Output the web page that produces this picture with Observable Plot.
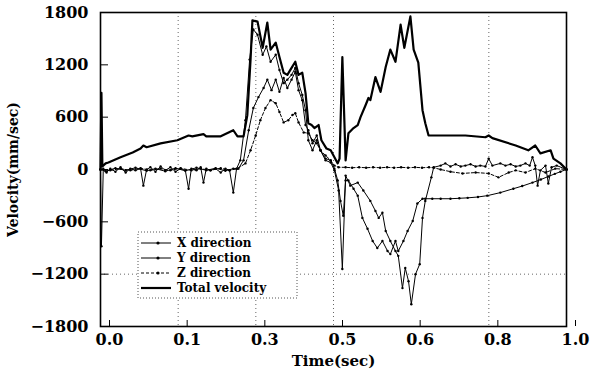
<!DOCTYPE html>
<html><head><meta charset="utf-8">
<script src="https://cdn.jsdelivr.net/npm/d3@7"></script>
<script src="https://cdn.jsdelivr.net/npm/@observablehq/plot@0.6"></script>
<style>body{margin:0;background:#fff}#chart{width:602px;height:374px}</style>
</head><body><div id="chart"></div>
<script>
const seriesNames = ["X direction", "Y direction", "Z direction", "Total velocity"];

// [time (sec), velocity (mm/sec)]
const xDirection = [
 [0,0],[0.002,-880],[0.006,10],[0.013,-35],[0.021,10],[0.032,-25],[0.043,25],[0.054,-35],[0.064,10],[0.075,-10],
 [0.086,10],[0.092,-185],[0.099,0],[0.107,25],[0.118,-25],[0.129,35],[0.139,-10],[0.150,25],[0.161,-25],[0.172,10],
 [0.182,-10],[0.189,-220],[0.195,10],[0.206,-10],[0.215,25],[0.221,-150],[0.227,10],[0.236,-10],[0.247,10],[0.258,-35],
 [0.268,10],[0.277,-10],[0.285,-265],[0.292,10],
 [0.300,105],[0.311,565],[0.320,1260],[0.328,1605],[0.337,1545],[0.348,1315],[0.356,1410],[0.365,1235],[0.376,1315],
 [0.384,1140],[0.393,990],[0.401,1030],[0.410,1085],[0.418,1165],[0.425,990],[0.433,855],[0.440,680],[0.446,335],
 [0.455,220],[0.464,335],[0.472,220],[0.483,105],[0.494,80],[0.502,-10],[0.511,-240],[0.519,-1140],[0.526,-70],
 [0.536,-185],[0.552,-150],[0.564,-240],[0.579,-360],[0.590,-475],[0.597,-555],[0.605,-495],[0.612,-705],[0.622,-820],
 [0.633,-935],[0.639,-990],[0.648,-1360],[0.654,-1130],[0.661,-1280],[0.667,-1545],[0.676,-1200],[0.685,-1085],
 [0.691,-555],[0.697,-360],[0.710,-90],[0.715,25],
 [0.730,45],[0.740,70],[0.751,35],[0.762,60],[0.773,35],[0.783,45],[0.794,60],[0.805,35],[0.815,45],[0.826,35],
 [0.833,125],[0.841,45],[0.858,70],[0.869,45],[0.880,60],[0.891,35],[0.901,45],[0.912,70],[0.921,45],[0.927,140],
 [0.933,45],[0.938,-185],[0.944,-10],[0.955,45],[0.961,-160],[0.968,25],[0.979,45],[1.0,0]
];

const yDirection = [
 [0,0],[0.011,-20],[0.032,15],[0.054,-10],[0.075,20],[0.099,-15],[0.118,10],[0.139,-20],[0.161,15],[0.182,-15],
 [0.206,20],[0.227,-10],[0.247,15],[0.268,-15],[0.285,10],[0.296,10],
 [0.307,105],[0.318,450],[0.328,705],[0.339,830],[0.350,935],[0.358,1030],[0.367,910],[0.376,1030],[0.384,890],
 [0.393,1050],[0.401,935],[0.410,1030],[0.418,1120],[0.425,910],[0.433,795],[0.440,510],[0.446,450],[0.455,300],
 [0.464,390],[0.472,220],[0.483,125],[0.494,105],[0.502,10],[0.509,-125],[0.515,-360],[0.521,-530],[0.526,-125],
 [0.532,-125],[0.543,-220],[0.552,-300],[0.562,-555],[0.573,-680],[0.584,-820],[0.594,-900],[0.605,-820],[0.616,-935],
 [0.622,-970],[0.633,-820],[0.639,-935],[0.650,-820],[0.659,-705],[0.670,-590],[0.680,-390],[0.691,-335],[0.697,-335],
 [0.712,-335],[0.730,-335],[0.751,-335],[0.770,-330],[0.788,-325],[0.810,-315],[0.830,-300],[0.858,-265],[0.886,-220],
 [0.905,-190],[0.927,-150],[0.945,-115],[0.961,-80],[0.975,-50],[0.987,-25],[1.0,0]
];

const zDirection = [
 [0,0],[0.021,-10],[0.043,10],[0.064,-10],[0.086,15],[0.107,-10],[0.129,10],[0.150,-10],[0.172,15],[0.195,-10],
 [0.215,10],[0.236,-10],[0.258,15],[0.277,-10],[0.294,10],
 [0.311,70],[0.322,220],[0.333,390],[0.343,565],[0.354,705],[0.365,795],[0.376,760],[0.384,660],[0.393,540],
 [0.403,565],[0.412,625],[0.418,645],[0.425,540],[0.436,425],[0.446,415],[0.455,335],[0.464,300],[0.472,220],
 [0.483,160],[0.494,105],[0.502,45],[0.511,25],
 [0.526,25],[0.540,20],[0.555,25],[0.570,20],[0.585,25],[0.600,20],[0.615,25],[0.630,20],[0.645,25],[0.660,20],
 [0.675,25],[0.690,20],[0.705,25],[0.715,20],
 [0.730,0],[0.751,-25],[0.777,-45],[0.805,-35],[0.833,-45],[0.854,-90],[0.876,-35],[0.891,-10],[0.912,-35],
 [0.933,10],[0.955,-35],[0.976,10],[1.0,0]
];

const totalVelocity = [
 [0,0],[0.002,880],[0.004,35],[0.011,70],[0.017,80],[0.043,140],[0.069,195],[0.086,240],[0.092,275],[0.099,255],
 [0.129,300],[0.165,335],[0.189,390],[0.197,380],[0.221,405],[0.227,380],[0.258,380],[0.285,450],[0.294,380],[0.307,380],
 [0.315,620],[0.322,1260],[0.326,1710],[0.337,1695],[0.348,1395],[0.358,1685],[0.365,1375],[0.376,1455],[0.384,1290],[0.393,1110],
 [0.401,1085],[0.410,1165],[0.418,1235],[0.425,1085],[0.433,1110],[0.440,875],[0.446,530],[0.453,510],[0.459,475],[0.468,510],
 [0.474,335],[0.485,240],[0.494,220],[0.502,140],[0.509,70],[0.513,125],[0.519,1290],[0.526,105],[0.532,415],[0.543,475],
 [0.552,510],[0.558,600],[0.569,740],[0.575,820],[0.579,795],[0.590,1060],[0.601,890],[0.612,1175],[0.622,1375],[0.633,1235],
 [0.644,1660],[0.652,1395],[0.665,1755],[0.672,1375],[0.682,1225],[0.691,680],[0.697,530],[0.704,390],[0.783,390],[0.826,370],
 [0.833,390],[0.841,360],[0.891,275],[0.918,220],[0.933,275],[0.944,185],[0.966,220],[0.972,125],[0.987,70],[1.0,0]
];

const yTickValues = [-1800, -1200, -600, 0, 600, 1200, 1800];
const xTickValues = [0, 1/6, 2/6, 3/6, 4/6, 5/6, 1];
const xTickLabels = ["0.0", "0.1", "0.3", "0.5", "0.6", "0.8", "1.0"];

const toRows = (name, arr) => arr.map(([t, v]) => ({series: name, t, v}));
const rowsX = toRows(seriesNames[0], xDirection);
const rowsY = toRows(seriesNames[1], yDirection);
const rowsZ = toRows(seriesNames[2], zDirection);
const rowsT = toRows(seriesNames[3], totalVelocity);

const fmtY = d3.format("d");
const font = "DejaVu Serif";

const chart = Plot.plot({
  width: 602,
  height: 374,
  marginLeft: 100,
  marginRight: 36,
  marginTop: 12,
  marginBottom: 48,
  style: {fontFamily: font, fontSize: "16px", color: "#000", background: "#fff"},
  x: {domain: [0, 1]},
  y: {domain: [-1800, 1800]},
  marks: [
    Plot.gridX([xTickValues[1], xTickValues[2], xTickValues[3], xTickValues[5]], {stroke: "#666", strokeOpacity: 1, strokeDasharray: "1,3"}),
    Plot.gridY([yTickValues[1]], {stroke: "#666", strokeOpacity: 1, strokeDasharray: "1,3"}),
    Plot.line(rowsZ, {x: "t", y: "v", stroke: "#000", strokeWidth: 1, strokeDasharray: "3,2"}),
    Plot.dot(rowsZ, {x: "t", y: "v", r: 1.2, fill: "#000"}),
    Plot.line(rowsY, {x: "t", y: "v", stroke: "#000", strokeWidth: 1}),
    Plot.dot(rowsY, {x: "t", y: "v", r: 1.2, fill: "#000"}),
    Plot.line(rowsX, {x: "t", y: "v", stroke: "#000", strokeWidth: 1}),
    Plot.dot(rowsX, {x: "t", y: "v", r: 1.2, fill: "#000"}),
    Plot.line(rowsT, {x: "t", y: "v", stroke: "#000", strokeWidth: 2.2}),
    Plot.frame({stroke: "#000", strokeWidth: 1.6}),
    Plot.axisY({ticks: yTickValues, tickSize: -8, tickPadding: 20, tickFormat: fmtY, label: null, fontSize: 16, fontWeight: "bold", letterSpacing: 0.5}),
    Plot.axisX({ticks: xTickValues, tickSize: -6, tickPadding: 13, tickFormat: d => xTickLabels[xTickValues.indexOf(d)], label: null, dx: 9, fontSize: 16, fontWeight: "bold"}),
    Plot.text(["Time(sec)"], {frameAnchor: "bottom", textAnchor: "middle", dy: 39, fontSize: 15, fontWeight: "bold"}),
    Plot.text(["Velocity(mm/sec)"], {frameAnchor: "left", textAnchor: "middle", dx: -87, rotate: -90, fontSize: 14, fontWeight: "bold"})
  ]
});
document.getElementById("chart").appendChild(chart);

// Legend (drawn inside the plot area)
const svg = d3.select(chart);
const lg = svg.append("g").attr("transform", "translate(138,232)");
lg.append("rect").attr("width", 159).attr("height", 66).attr("fill", "#fff")
  .attr("stroke", "#555").attr("stroke-dasharray", "1,2");
const legendStyles = [
  {dash: null, dot: true, w: 1},
  {dash: null, dot: true, w: 1},
  {dash: "3,2", dot: true, w: 1},
  {dash: null, dot: false, w: 2.2}
];
seriesNames.forEach((name, i) => {
  const yy = 11 + i * 15;
  const s = legendStyles[i];
  lg.append("line").attr("x1", 3).attr("x2", 33).attr("y1", yy).attr("y2", yy)
    .attr("stroke", "#000").attr("stroke-width", s.w).attr("stroke-dasharray", s.dash);
  if (s.dot) lg.append("circle").attr("cx", 20).attr("cy", yy).attr("r", 1.6).attr("fill", "#000");
  lg.append("text").attr("x", 39).attr("y", yy).attr("dy", "0.35em")
    .attr("text-anchor", "start").attr("font-weight", "bold")
    .attr("font-family", font).attr("font-size", 12).text(name);
});
</script></body></html>
